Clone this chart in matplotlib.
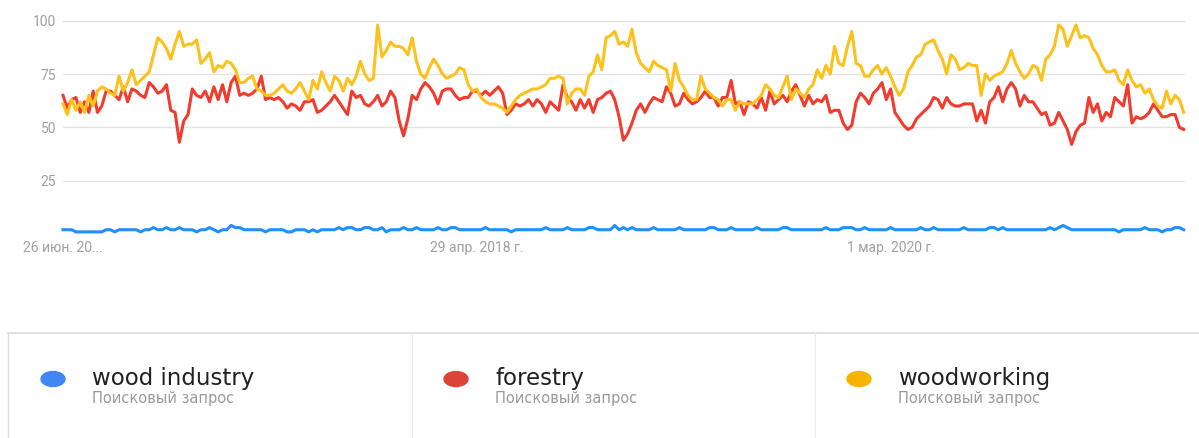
import numpy as np
import pandas as pd
import matplotlib
matplotlib.use("Agg")
from matplotlib import pyplot as plt
from matplotlib.patches import Ellipse
from matplotlib.lines import Line2D

# weekly Google Trends values, 26 Jun 2016 .. 13 Jun 2021
weeks = pd.date_range("2016-06-26", periods=261, freq="7D")

wood_industry = [
    2, 2, 2, 1, 1, 1, 1, 1, 1, 1, 2, 2, 1, 2, 2, 2, 2, 2, 1, 2,
    2, 3, 2, 2, 3, 2, 2, 3, 2, 2, 2, 1, 2, 2, 3, 2, 1, 2, 2, 4,
    3, 3, 2, 2, 2, 2, 2, 1, 2, 2, 2, 2, 1, 1, 2, 2, 2, 1, 2, 1,
    2, 2, 2, 2, 3, 2, 3, 3, 2, 2, 3, 3, 2, 2, 3, 1, 2, 2, 2, 3,
    2, 2, 3, 2, 2, 2, 2, 3, 2, 2, 3, 3, 2, 2, 2, 2, 2, 2, 3, 2,
    2, 2, 2, 2, 1, 2, 2, 2, 2, 2, 2, 2, 3, 2, 2, 2, 2, 3, 2, 2,
    2, 2, 3, 3, 2, 2, 2, 2, 4, 2, 3, 2, 3, 2, 2, 2, 2, 3, 2, 2,
    2, 2, 2, 3, 2, 2, 2, 2, 2, 2, 3, 3, 2, 2, 2, 3, 2, 2, 2, 2,
    2, 3, 2, 2, 2, 2, 2, 3, 3, 2, 2, 2, 2, 2, 2, 2, 2, 3, 2, 2,
    2, 3, 3, 3, 2, 2, 3, 2, 2, 2, 2, 2, 3, 2, 2, 2, 2, 2, 2, 3,
    2, 2, 3, 2, 2, 2, 2, 2, 2, 3,
    2, 2, 2, 2, 2, 3, 3, 2, 3, 2, 2, 2, 2, 2, 2, 2, 2, 2, 2, 3,
    2, 3, 4, 3, 2, 2, 2, 2, 2, 2, 2, 2, 2, 2, 2, 1, 2, 2, 2, 2,
    2, 3, 2, 2, 2, 1, 2, 2, 3, 3, 2,
]

forestry = [
    65, 59, 63, 64, 57, 62, 57, 67, 57, 60,
    67, 67, 65, 63, 69, 62, 68, 67, 65, 64,
    71, 69, 66, 67, 70, 58, 57, 43, 53, 56,
    68, 65, 64, 67, 62, 69, 63, 70, 62, 71,
    74, 65, 66, 65, 66, 68, 74, 63, 64, 63,
    64, 62, 59, 61, 60, 58, 62, 62, 63, 57,
    58, 60, 62, 65, 62, 59, 56, 67, 64, 65,
    61, 60, 62, 65, 60, 62, 67, 64, 53, 46,
    54, 65, 63, 68, 71, 69, 66, 61, 67, 68,
    68, 65, 63, 64, 64, 67, 67, 65, 67, 65,
    67, 69, 66, 56, 58, 61, 60, 61, 63, 60,
    63, 61, 57, 62, 60, 58, 70, 64, 62, 58,
    63, 59, 63, 57, 63, 64, 66, 67, 63, 55,
    44, 47, 52, 58, 61, 57, 61, 64, 63, 62,
    69, 66, 60, 61, 66, 63, 61, 62, 64, 67,
    64, 64, 60, 64, 64, 72, 61, 62, 56, 62,
    61, 59, 64, 58, 67, 61, 63, 65, 62, 67,
    70, 65, 60, 65, 61, 63, 62, 65, 57, 58,
    58, 52, 49, 51, 62, 66, 64, 61, 66, 68,
    71, 63, 68, 57, 54, 51, 49, 50, 54, 56,
    58, 60, 64, 63, 59, 64, 61, 60, 60, 61,
    61, 61, 53, 58, 52, 62, 64, 69, 62, 68,
    71, 68, 60, 65, 62, 62, 59, 56, 57, 51,
    52, 57, 53, 49, 42, 48, 51, 52, 64, 57,
    61, 53, 57, 55, 64, 62, 60, 70, 52, 55,
    54, 55, 57, 61, 58, 55, 55, 56, 56, 50, 49,
]

woodworking = [
    61, 56, 63, 58, 62, 57, 65, 60, 67, 69,
    68, 66, 65, 74, 67, 71, 77, 70, 72, 74,
    76, 84, 92, 90, 87, 82, 89, 95, 88, 89,
    89, 91, 80, 82, 85, 76, 79, 78, 81, 80,
    77, 71, 71, 73, 74, 68, 67, 65, 65, 66,
    68, 70, 67, 66, 68, 71, 67, 63, 72, 68,
    76, 71, 67, 74, 72, 67, 73, 70, 74, 81,
    75, 72, 73, 98, 83, 86, 90, 88, 88, 87,
    84, 92, 81, 75, 73, 78, 82, 79, 75, 73,
    74, 75, 78, 77, 70, 67, 68, 64, 62, 61,
    61, 60, 59, 57, 60, 63, 65, 66, 67, 68,
    68, 69, 70, 73, 73, 74, 73, 61, 66, 68,
    68, 65, 74, 76, 84, 77, 92, 93, 95, 89,
    90, 88, 96, 85, 80, 78, 76, 81, 79, 78,
    77, 67, 80, 72, 69, 65, 63, 63, 74, 68,
    66, 64, 63, 60, 63, 63, 58, 62, 61, 61,
    61, 63, 65, 70, 68, 65, 64, 69, 74, 63,
    68, 66, 64, 68, 70, 77, 73, 79, 75, 88,
    80, 79, 88, 95, 80, 79, 74, 74, 77, 79,
    75, 78, 74, 69, 65, 68, 76, 79, 83, 84,
    89, 90, 91, 86, 82, 75, 84, 82, 77, 78,
    80, 79, 79, 65, 75, 72, 74, 75, 76, 80,
    86, 80, 76, 73, 75, 79, 78, 72, 82, 84,
    88, 98, 96, 88, 93, 98, 92, 93, 92, 87,
    84, 79, 76, 76, 77, 72, 70, 77, 72, 69,
    70, 66, 68, 63, 60, 59, 67, 61, 65, 63, 57,
]

series_names = ["wood industry", "forestry", "woodworking"]
line_colors = ["#1e90ff", "#f23b2f", "#fdc11c"]
dot_colors = ["#4285f4", "#db4437", "#f4b400"]
subtitle = "Поисковый запрос"

tick_dates = ["2016-06-26", "2018-04-29", "2020-03-01"]
tick_labels = ["26 июн. 20...", "29 апр. 2018 г.", "1 мар. 2020 г."]

W, H = 1199, 438
fig = plt.figure(figsize=(W / 100, H / 100), dpi=100)
fig.patch.set_facecolor("white")

# plot area in pixels: x 63..1185, y(100)=20.7 .. y(0)=234
ax = fig.add_axes([63 / W, 1 - 234 / H, (1185 - 63) / W, (234 - 20.7) / H])
for vals, col in zip([wood_industry, forestry, woodworking], line_colors):
    ax.plot(weeks, vals, color=col, lw=2.2, solid_joinstyle="round", clip_on=False)

ax.set_ylim(0, 100)
ax.set_xlim(weeks[0], weeks[0] + pd.Timedelta(days=7 * 260.3))
ax.set_yticks([0, 25, 50, 75, 100])
ax.set_yticklabels(["", "25", "50", "75", "100"])
ax.set_xticks(pd.to_datetime(tick_dates))
ax.set_xticklabels(tick_labels)
ax.grid(axis="y", color="#e3e3e3", lw=1)
ax.set_axisbelow(True)
for s in ax.spines.values():
    s.set_visible(False)
ax.tick_params(length=0, labelsize=10, labelcolor="#a0a0a0", pad=5)
for lab in ax.get_xticklabels() + ax.get_yticklabels():
    lab.set_fontfamily("Roboto")

# legend panel below the chart
def px(x, y):
    return x / W, 1 - y / H

border = "#dcdcdc"
fig.add_artist(Line2D([8 / W, 1], [1 - 333 / H] * 2, color=border, lw=1.2))
for xv in [8, 412, 815]:
    fig.add_artist(Line2D([xv / W] * 2, [1 - 333 / H, 0], color="#ececec" if xv != 8 else border, lw=1))

for i, name in enumerate(series_names):
    x0 = 53 + 403 * i
    cx, cy = px(x0, 379)
    fig.add_artist(Ellipse((cx, cy), 24 / W, 15 / H, color=dot_colors[i]))
    tx, ty = px(x0 + 39, 379)
    fig.text(tx, ty, name, fontsize=16.5, color="#202124", family="DejaVu Sans",
             va="center", ha="left")
    sx, sy = px(x0 + 39, 398)
    fig.text(sx, sy, subtitle, fontsize=10.5, color="#9a9a9a", family="DejaVu Sans",
             va="center", ha="left")

fig.savefig("out.png", dpi=100)
